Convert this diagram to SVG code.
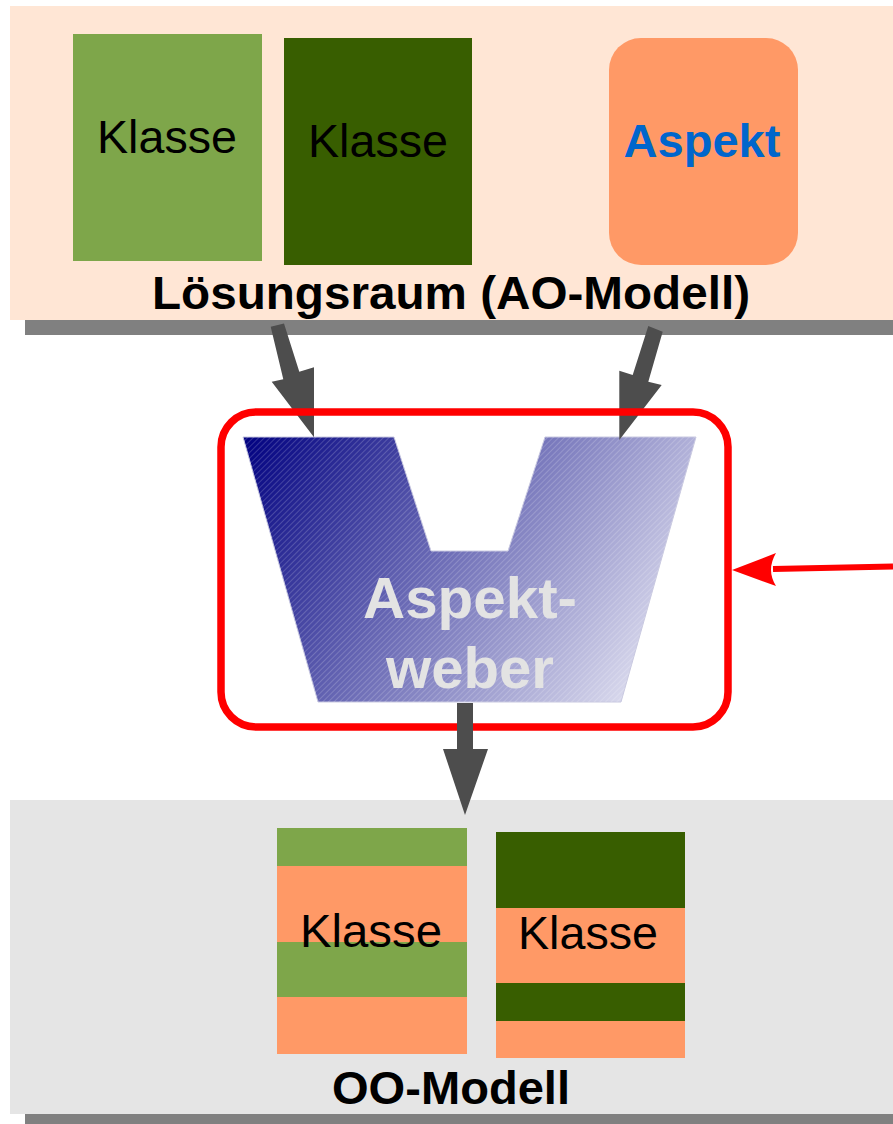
<svg xmlns="http://www.w3.org/2000/svg" width="893" height="1124" viewBox="0 0 893 1124">
  <style>
    .lbl { font-family: "Liberation Sans", Arial, sans-serif; text-anchor: middle; }
    .cls { font-size: 47px; fill: #000000; }
    .bold { font-weight: bold; }
    .band-shadow { fill: #808080; }
    .arrow { fill: #4d4d4d; }
    .light { fill: #7ea64a; }
    .dark { fill: #385e00; }
    .asp { fill: #ff9966; }
  </style>
  <defs>
    <linearGradient id="weaverGrad" gradientUnits="userSpaceOnUse" x1="243" y1="437" x2="660" y2="715">
      <stop offset="0" stop-color="#000080"/>
      <stop offset="1" stop-color="#eaeaf5"/>
    </linearGradient>
    <pattern id="hatch" patternUnits="userSpaceOnUse" width="4" height="4" patternTransform="rotate(-45)">
      <rect x="0" y="0" width="4" height="1" fill="#ffffff" fill-opacity="0.18"/>
    </pattern>
    <marker id="redHead" markerUnits="userSpaceOnUse" markerWidth="48" markerHeight="36" refX="46" refY="18" orient="auto">
      <path d="M46,18 L2,1 Q12,18 2,35 Z" fill="#ff0000"/>
    </marker>
  </defs>

  <!-- solution space band -->
  <g id="loesungsraum">
    <rect class="band-shadow" x="25" y="320" width="868" height="15"/>
    <rect x="10" y="6" width="883" height="314" fill="#ffe6d5"/>
    <text class="lbl bold" x="451" y="309" font-size="47" textLength="598" lengthAdjust="spacingAndGlyphs">Lösungsraum (AO-Modell)</text>
  </g>

  <g id="klasse-a">
    <rect class="light" x="73" y="34" width="189" height="227"/>
    <text class="lbl cls" x="167" y="153" textLength="140" lengthAdjust="spacingAndGlyphs">Klasse</text>
  </g>
  <g id="klasse-b">
    <rect class="dark" x="284" y="38" width="188" height="227"/>
    <text class="lbl cls" x="378" y="157" textLength="140" lengthAdjust="spacingAndGlyphs">Klasse</text>
  </g>
  <g id="aspekt">
    <rect class="asp" x="609" y="38" width="189" height="227" rx="32" ry="32"/>
    <text class="lbl bold" x="702" y="157" font-size="47" fill="#0066cc" textLength="157" lengthAdjust="spacingAndGlyphs">Aspekt</text>
  </g>

  <!-- OO model band -->
  <g id="oo-modell">
    <rect class="band-shadow" x="25" y="1114" width="868" height="10"/>
    <rect x="10" y="800" width="883" height="314" fill="#e5e5e5"/>
    <text class="lbl bold" x="451" y="1104" font-size="47" textLength="238" lengthAdjust="spacingAndGlyphs">OO-Modell</text>
  </g>

  <g id="klasse-woven-a">
    <rect class="light" x="277" y="828" width="190" height="38"/>
    <rect class="asp" x="277" y="866" width="190" height="76"/>
    <rect class="light" x="277" y="942" width="190" height="55"/>
    <rect class="asp" x="277" y="997" width="190" height="57"/>
    <text class="lbl cls" x="371" y="947" textLength="142" lengthAdjust="spacingAndGlyphs">Klasse</text>
  </g>
  <g id="klasse-woven-b">
    <rect class="dark" x="496" y="832" width="189" height="76"/>
    <rect class="asp" x="496" y="908" width="189" height="75"/>
    <rect class="dark" x="496" y="983" width="189" height="38"/>
    <rect class="asp" x="496" y="1021" width="189" height="37"/>
    <text class="lbl cls" x="588" y="949" textLength="140" lengthAdjust="spacingAndGlyphs">Klasse</text>
  </g>

  <!-- weaver -->
  <g id="aspektweber">
    <polygon points="243,437 394,437 431,551 508,551 545,437 696,437 621,702 318,702" fill="url(#weaverGrad)" stroke="#c8c8e0" stroke-width="1"/>
    <polygon points="243,437 394,437 431,551 508,551 545,437 696,437 621,702 318,702" fill="url(#hatch)"/>
    <text class="lbl bold" x="470" y="618" font-size="57" fill="#e3e3e3" textLength="214" lengthAdjust="spacingAndGlyphs">Aspekt-</text>
    <text class="lbl bold" x="470" y="688" font-size="57" fill="#e3e3e3" textLength="168" lengthAdjust="spacingAndGlyphs">weber</text>
  </g>

  <g id="connectors">
    <polygon class="arrow" points="270.7,326.7 284,323.5 299.3,371.7 314,367.3 314,437.3 271.7,381.7 283.3,379.3"/>
    <polygon class="arrow" points="648.3,326 662.7,331.7 648.3,381.7 661.7,385 619.3,440 619.3,370.7 632.7,375"/>
    <rect x="221" y="412" width="507" height="315" rx="35" ry="35" fill="none" stroke="#ff0000" stroke-width="7.5"/>
    <polygon class="arrow" points="457,703 473,703 473,749 488,749 465,815 443,749 457,749"/>
    <line x1="893" y1="566.5" x2="773" y2="569" stroke="#ff0000" stroke-width="6"/>
    <path d="M732,570 L776,553 Q766,570 776,586 Z" fill="#ff0000"/>
  </g>
</svg>
